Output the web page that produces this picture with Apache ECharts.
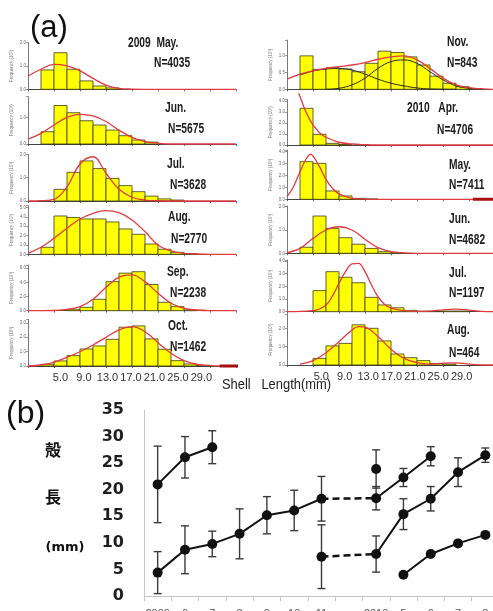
<!DOCTYPE html>
<html><head><meta charset="utf-8">
<script src="https://cdn.jsdelivr.net/npm/echarts@6/dist/echarts.min.js"></script>
<style>html,body{margin:0;padding:0;background:#fff}#c{width:493px;height:611px}</style>
</head><body><div id="c"></div>
<script>
// ================= DATA =================
// (a) histograms: frequency (x10^3) per 2-mm shell-length bin, bins start at 0 mm
const histMay09 = [0, 0.83, 1.57, 0.86, 0.36, 0.14, 0.06];
const histJun09 = [0, 0.46, 1.44, 1.17, 0.87, 0.71, 0.52, 0.31, 0.15, 0.07];
const histJul09 = [0, 0, 0.5, 1.23, 1.72, 1.39, 0.97, 0.66, 0.40, 0.21, 0.09, 0.04];
const histAug09 = [0, 0.75, 4.1, 3.93, 3.78, 3.78, 3.46, 2.71, 2.14, 1.1, 0.54, 0.21, 0.07];
const histSep09 = [0, 0, 0, 0.2, 0.48, 1.61, 4.1, 5.3, 5.5, 3.7, 1.19, 0.57, 0.1];
const histOct09 = [0, 0.12, 0.35, 0.72, 1.18, 1.39, 1.85, 2.69, 2.78, 1.88, 1.16, 0.37, 0.14, 0.05];
const histNov09 = [0, 0.99, 0.59, 0.64, 0.6, 0.52, 0.77, 1.13, 1.09, 0.96, 0.72, 0.39, 0.18, 0.08, 0.02];
const histApr10 = [0, 3.33, 0.97, 0.15, 0.05];
const histMay10 = [0, 3.16, 3.02, 0.7, 0.28, 0.08, 0.03];
const histJun10 = [0, 0.26, 1.6, 1.07, 0.67, 0.39, 0.21, 0.07, 0.03];
const histJul10 = [0, 0, 1.66, 3.15, 2.71, 2.28, 1.13, 0.53, 0.31, 0.1, 0.04, 0.03, 0.05, 0.05];
const histAug10 = [0, 0, 0.36, 1.04, 1.18, 2.19, 2.0, 1.31, 0.6, 0.4, 0.24, 0.08, 0.05];

// fitted curves: [shell length mm, frequency]
const fitMay09 = [[0,0.57],[2,0.86],[4,1.07],[6,1.01],[8,0.79],[10,0.47],[12,0.18],[14,0.04],[16,0.01],[20,0],[32,0]];
const fitJun09 = [[0,0.18],[2,0.40],[4,0.71],[6,1.0],[8,1.11],[10,1.05],[12,0.84],[14,0.52],[16,0.25],[18,0.09],[20,0.03],[22,0],[32,0]];
const fitJul09 = [[0,0],[2,0.01],[4,0.07],[6,0.61],[8,1.59],[10,1.90],[12,1.19],[14,0.5],[16,0.16],[18,0.04],[20,0.01],[22,0],[32,0]];
const fitAug09 = [[0,0.1],[2,0.75],[4,1.71],[6,2.79],[8,3.78],[10,4.39],[12,4.68],[14,4.46],[16,3.68],[18,2.43],[20,1.0],[22,0.36],[24,0.1],[26,0.03],[28,0],[32,0]];
const fitSep09 = [[0,0],[4,0.03],[6,0.2],[8,0.57],[10,1.61],[12,3.31],[14,4.73],[16,5.06],[18,4.1],[20,2.46],[22,1.05],[24,0.34],[26,0.1],[28,0.02],[32,0]];
const fitOct09 = [[0,0],[2,0.07],[4,0.26],[6,0.6],[8,0.99],[10,1.46],[12,1.99],[14,2.5],[16,2.73],[18,2.38],[20,1.62],[22,0.88],[24,0.37],[26,0.12],[28,0.03],[32,0]];
const fitNov09 = [[0,0.30],[2,0.45],[4,0.55],[6,0.62],[8,0.67],[10,0.72],[12,0.79],[14,0.89],[16,0.96],[18,0.99],[20,0.87],[22,0.62],[24,0.33],[26,0.13],[28,0.05],[30,0.01],[32,0]];
const compNov09a = [[2,0.42],[4,0.54],[6,0.60],[8,0.62],[10,0.57],[12,0.45],[14,0.30],[16,0.18],[18,0.10],[20,0.04],[22,0.01],[26,0]];
const compNov09b = [[6,0],[8,0.03],[10,0.13],[12,0.33],[14,0.62],[16,0.82],[18,0.87],[20,0.77],[22,0.52],[24,0.28],[26,0.1],[28,0.03],[30,0]];
const fitApr10 = [[1.8,4.7],[2,4.4],[3,2.88],[4,1.82],[5,1.12],[6,0.7],[8,0.25],[10,0.09],[12,0.03],[14,0],[32,0]];
const fitMay10 = [[0,0.22],[1,1.06],[2,2.32],[3,3.45],[3.6,3.78],[4,3.64],[5,2.74],[6,1.68],[7,0.92],[8,0.45],[10,0.08],[12,0.02],[14,0],[32,0]];
const fitJun10 = [[0,0.03],[2,0.21],[4,0.64],[6,1.0],[8,1.14],[10,1.0],[12,0.6],[14,0.24],[16,0.07],[18,0.02],[20,0],[32,0]];
const fitJul10 = [[0,0],[4,0.08],[6,0.53],[7,1.24],[8,2.24],[9,3.15],[10,3.76],[11,3.81],[12,3.15],[13,2.1],[14,1.18],[15,0.58],[16,0.29],[18,0.08],[20,0.03],[22,0.05],[24,0.15],[26,0.2],[28,0.12],[30,0.03],[32,0]];
const fitAug10 = [[2,0.05],[4,0.24],[6,0.67],[8,1.27],[10,1.91],[11,2.09],[12,2.06],[14,1.55],[16,0.86],[18,0.36],[20,0.13],[22,0.05],[24,0.1],[26,0.12],[28,0.05],[30,0.01],[32,0]];
const tailOct09 = [[29.5,0],[32.5,0]];
const tailMay10 = [[28.6,0],[32.5,0]];

const monthTitles = ['2009  May.','Jun.','Jul.','Aug.','Sep.','Oct.','Nov.','2010   Apr.','May.','Jun.','Jul.','Aug.'];
const sampleSizes = ['N=4035','N=5675','N=3628','N=2770','N=2238','N=1462','N=843','N=4706','N=7411','N=4682','N=1197','N=464'];
const shellTickLabels = [5, 9, 13, 17, 21, 25, 29];

// (b) mean shell length (mm) and SD by month
const categories = ['2009','6','7','8','9','10','11','','2010','5','6','7','8'];
const cohortA = [21.0, 26.1, 28.0, null, null, null, null, null, null, null, null, null, null];
const errA    = [7.2, 3.9, 3.1, null, null, null, null, null, null, null, null, null, null];
const cohortB = [4.4, 8.7, 9.8, 11.7, 15.2, 16.1, 18.3, null, 18.4, 22.3, 26.3, null, null];
const errB    = [3.95, 4.5, 2.4, 4.7, 3.5, 3.8, 4.2, null, 2.2, 1.7, 1.8, null, null];
const cohortC = [null, null, null, null, null, null, 7.4, null, 7.9, 15.4, 18.3, 23.3, 26.5];
const errC    = [null, null, null, null, null, null, 6.0, null, 3.4, 2.9, 2.3, 2.7, 1.35];
const cohortD = [null, null, null, null, null, null, null, null, null, 4.0, 7.9, 9.9, 11.5];
const loneApr10 = [null, null, null, null, null, null, null, null, 23.9, null, null, null, null];
const errLone   = [null, null, null, null, null, null, null, null, 3.6, null, null, null, null];

// ================= LAYOUT / STYLE =================
const SANS = "'Liberation Sans', Arial, sans-serif";
const panels = [
  {hist:histMay09, fit:fitMay09, ymax:2.0,  yint:1.0, left:28,  top:42.7,  bottom:89.3,  tx:128, ty:43,  nx:154, ny:63},
  {hist:histJun09, fit:fitJun09, ymax:1.77, yint:1.0, left:28,  top:96.7,  bottom:144,   tx:165, ty:108, nx:168, ny:129},
  {hist:histJul09, fit:fitJul09, ymax:2.0,  yint:1.0, left:28,  top:154.4, bottom:201,   tx:167, ty:164, nx:170, ny:185},
  {hist:histAug09, fit:fitAug09, ymax:5.2,  yint:1.0, left:28,  top:205.7, bottom:254.3, tx:168, ty:217, nx:171, ny:239},
  {hist:histSep09, fit:fitSep09, ymax:6.45, yint:2.0, left:28,  top:265,   bottom:310.7, tx:167, ty:272, nx:170, ny:293},
  {hist:histOct09, fit:fitOct09, ymax:3.24, yint:1.0, left:28,  top:319.3, bottom:366,   tx:168, ty:326, nx:170, ny:347, tail:tailOct09, labels:{min:-0.53, max:34.88}},
  {hist:histNov09, fit:fitNov09, ymax:1.46, yint:0.5, left:287, top:40,    bottom:89.3,  tx:447, ty:42,  nx:447, ny:63, comps:[compNov09a, compNov09b]},
  {hist:histApr10, fit:fitApr10, ymax:4.15, yint:1.0, left:287, top:99.3,  bottom:145,   tx:407, ty:108, nx:437, ny:130},
  {hist:histMay10, fit:fitMay10, ymax:4.14, yint:1.0, left:287, top:150,   bottom:199.3, tx:449, ty:165, nx:449, ny:185, tail:tailMay10},
  {hist:histJun10, fit:fitJun10, ymax:2.03, yint:1.0, left:287, top:206,   bottom:253.3, tx:449, ty:219, nx:449, ny:240},
  {hist:histJul10, fit:fitJul10, ymax:4.07, yint:1.0, left:287, top:260,   bottom:311.7, tx:449, ty:273, nx:449, ny:293},
  {hist:histAug10, fit:fitAug10, ymax:2.78, yint:1.0, left:287, top:314,   bottom:365,   tx:447, ty:330, nx:449, ny:353, labels:{min:-0.87, max:34.7}}
];

const grids = [], xAxes = [], yAxes = [], series = [], graphics = [];

function barItem(params, api) {
  const p0 = api.coord([api.value(0), api.value(2)]);
  const p1 = api.coord([api.value(1), 0]);
  return {type:'rect', shape:{x:p0[0], y:p0[1], width:p1[0]-p0[0], height:p1[1]-p0[1]},
          style:{fill:'#ffff00', stroke:'#3b3b14', lineWidth:0.8}};
}

panels.forEach((p, i) => {
  grids.push({left:p.left, top:p.top, width:208, height:p.bottom - p.top, outerBoundsMode:'none', containLabel:false});
  xAxes.push({gridIndex:i, type:'value', min:0, max:32, interval:4,
    axisLine:{lineStyle:{color:'#444', width:1}}, axisTick:{length:2, lineStyle:{color:'#444', width:0.8}},
    axisLabel:{show:false}, splitLine:{show:false}});
  yAxes.push({gridIndex:i, type:'value', min:0, max:p.ymax, interval:p.yint,
    name:'Frequency (10\u00b3)', nameLocation:'middle', nameGap:14, nameRotate:90,
    nameTextStyle:{fontSize:4.5, color:'#777'},
    axisLine:{show:true, lineStyle:{color:'#555', width:0.8}}, axisTick:{show:true, length:2, lineStyle:{color:'#555', width:0.6}},
    axisLabel:{fontSize:4.5, color:'#666', margin:2,
      formatter: v => Math.abs(v / p.yint - Math.round(v / p.yint)) < 1e-6 ? v.toFixed(1) : ''},
    splitLine:{show:false}});
  series.push({type:'custom', xAxisIndex:i, yAxisIndex:i, renderItem:barItem, z:2,
    encode:{x:[0,1], y:2},
    data:p.hist.map((v, k) => [k*2, k*2+2, v]).filter(d => d[2] > 0)});
  (p.comps || []).forEach(c => series.push({type:'line', xAxisIndex:i, yAxisIndex:i, data:c, smooth:0.4,
    showSymbol:false, clip:false, z:3, lineStyle:{color:'#2b2b2b', width:1}}));
  series.push({type:'line', xAxisIndex:i, yAxisIndex:i, data:p.fit, smooth:0.4, showSymbol:false, clip:false, z:4,
    lineStyle:{color:'#e23a3f', width:1.3}});
  if (p.tail) series.push({type:'line', xAxisIndex:i, yAxisIndex:i, data:p.tail, showSymbol:false, clip:false, z:5,
    lineStyle:{color:'#a80f0f', width:3}});
  const tStyle = {fill:'#1c1c1c', font:'bold 14px ' + SANS, verticalAlign:'middle', align:'left'};
  graphics.push({type:'text', x:p.tx, y:p.ty, scaleX:0.73, style:Object.assign({text:monthTitles[i]}, tStyle)});
  graphics.push({type:'text', x:p.nx, y:p.ny, scaleX:0.73, style:Object.assign({text:sampleSizes[i]}, tStyle)});
});

// shell-length tick label rows under the bottom panels
[5, 11].forEach(gi => {
  const lab = panels[gi].labels;
  xAxes.push({gridIndex:gi, type:'value', position:'bottom', min:lab.min, max:lab.max,
    axisLine:{show:false}, axisTick:{show:false}, splitLine:{show:false},
    axisLabel:{customValues:shellTickLabels, formatter:v => v.toFixed(1), fontSize:11, fontFamily:'Liberation Sans',
      color:'#333', margin:6, hideOverlap:false, showMinLabel:true, showMaxLabel:true}});
});

// (b) grid
const gb = grids.length;
const xb = xAxes.length;
const yb = yAxes.length;
grids.push({left:144, top:410, width:355, height:186, outerBoundsMode:'none', containLabel:false});
xAxes.push({gridIndex:gb, type:'category', data:categories, boundaryGap:true,
  axisLine:{lineStyle:{color:'#c4c4c4', width:1}},
  axisTick:{show:true, interval:0, alignWithLabel:false, length:5, lineStyle:{color:'#c4c4c4'}},
  axisLabel:{interval:0, fontSize:11, color:'#555', margin:12}});
yAxes.push({gridIndex:gb, type:'value', min:0, max:35, interval:5,
  axisLine:{show:true, lineStyle:{color:'#c4c4c4', width:1}}, axisTick:{show:false}, splitLine:{show:false},
  axisLabel:{fontSize:16, fontWeight:'bold', fontFamily:'DejaVu Sans', color:'#1e1e1e', margin:20}});

function errItem(params, api) {
  const i = api.value(0), v = api.value(1), e = api.value(2);
  const t = api.coord([i, v + e]), b = api.coord([i, v - e]);
  const w = 4, st = {stroke:'#3a3a3a', lineWidth:1.4};
  return {type:'group', children:[
    {type:'line', shape:{x1:t[0], y1:t[1], x2:b[0], y2:b[1]}, style:st},
    {type:'line', shape:{x1:t[0]-w, y1:t[1], x2:t[0]+w, y2:t[1]}, style:st},
    {type:'line', shape:{x1:b[0]-w, y1:b[1], x2:b[0]+w, y2:b[1]}, style:st}]};
}
const errData = [];
[[cohortA, errA], [cohortB, errB], [cohortC, errC], [loneApr10, errLone]].forEach(([vals, errs]) => {
  vals.forEach((v, i) => { if (v != null && errs[i] != null) errData.push([i, v, errs[i]]); });
});
series.push({type:'custom', xAxisIndex:xb, yAxisIndex:yb, renderItem:errItem, data:errData, z:2, encode:{x:0, y:1}});

const lineBase = {type:'line', xAxisIndex:xb, yAxisIndex:yb, symbol:'circle', symbolSize:10, z:4,
  itemStyle:{color:'#111'}, lineStyle:{color:'#111', width:2}, connectNulls:false};
[cohortA, cohortB, cohortC, cohortD].forEach(d => series.push(Object.assign({}, lineBase, {data:d})));
series.push(Object.assign({}, lineBase, {data:loneApr10}));
// dashed links across the winter gap (Nov 2009 -> Apr 2010)
[cohortB, cohortC].forEach(d => series.push({type:'line', xAxisIndex:xb, yAxisIndex:yb, z:3, showSymbol:false,
  connectNulls:true, data:d.map((v, i) => (i === 6 || i === 8) ? v : null),
  lineStyle:{color:'#111', width:2.5, type:[7,4]}}));

// text labels
graphics.push({type:'text', x:30, y:28, style:{text:'(a)', font:'31px ' + SANS, fill:'#111', verticalAlign:'middle'}});
graphics.push({type:'text', x:6, y:414, style:{text:'(b)', font:'32px ' + SANS, fill:'#111', verticalAlign:'middle'}});
graphics.push({type:'text', x:222, y:385, scaleX:0.86, style:{text:'Shell   Length(mm)', font:'15px ' + SANS, fill:'#222', align:'left', verticalAlign:'middle'}});
graphics.push({type:'text', x:53, y:450, style:{text:'殻', font:"bold 16px 'Noto Sans CJK JP', sans-serif", fill:'#111', align:'center', verticalAlign:'middle'}});
graphics.push({type:'text', x:53, y:497, style:{text:'長', font:"bold 16px 'Noto Sans CJK JP', sans-serif", fill:'#111', align:'center', verticalAlign:'middle'}});
graphics.push({type:'text', x:65, y:548, style:{text:'(mm)', font:"bold 13px 'DejaVu Sans', sans-serif", fill:'#111', align:'center', verticalAlign:'middle'}});

const chart = echarts.init(document.getElementById('c'), null, {renderer:'canvas'});
chart.setOption({animation:false, backgroundColor:'#fff', grid:grids, xAxis:xAxes, yAxis:yAxes, series:series, graphic:graphics});
</script></body></html>
